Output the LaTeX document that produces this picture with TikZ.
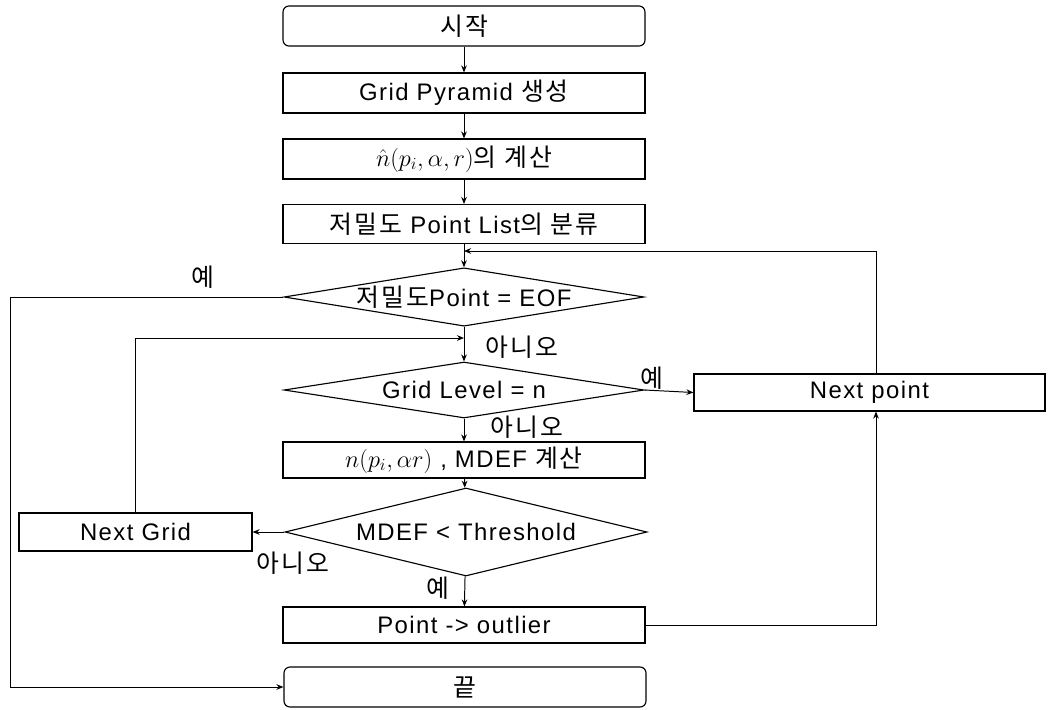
\documentclass[tikz,border=0pt]{standalone}
\usepackage{fontspec}
\setmainfont[LetterSpace=6]{Liberation Sans}
\newfontfamily\krfont[Scale=1.04, LetterSpace=8]{Noto Sans CJK KR}
\newcommand{\hg}[1]{{\krfont #1}}
\usetikzlibrary{positioning,arrows.meta,shapes.geometric}

\tikzset{
  box/.style={draw, rectangle, line width=0.8pt, inner sep=0pt,
    minimum width=90.5mm, minimum height=10mm, font=\fontsize{17}{20}\selectfont},
  term/.style={box, rounded corners=1.5mm},
  dia/.style={draw, diamond, line width=0.8pt, inner sep=0pt, aspect=6,
    minimum width=90mm, minimum height=14.25mm, font=\fontsize{17}{20}\selectfont},
  lab/.style={inner sep=1pt, font=\fontsize{17}{20}\selectfont},
  flow/.style={line width=0.7pt, -{Stealth[length=5pt,width=4pt]}},
}

\begin{document}
\begin{tikzpicture}[x=0.25mm, y=-0.25mm]
\useasboundingbox (0,0) rectangle (1048,709);

%% 본 흐름
\node[term] (start) at (464,26) {\hg{시작}};
\node[box] (pyr) at (464,93) {Grid Pyramid \hg{생성}};
\node[box] (nhat) at (464,159) {$\hat{n}(p_i,\alpha,r)$\hg{의 계산}};
\node[box, minimum height=9.75mm] (lowd) at (464,224) {\hg{저밀도} Point List\hg{의 분류}};
\node[dia] (eof) at (464,297) {\hg{저밀도}Point = EOF};
\node[dia, minimum height=14mm] (lvl) at (464,390) {Grid Level = n};
\node[box, minimum height=9mm] (mdef) at (464,460) {$n(p_i,\alpha r)$ , MDEF \hg{계산}};
\node[dia, aspect=4, minimum width=90.5mm, minimum height=22mm] (thr) at (466,532) {MDEF < Threshold};
\node[box, minimum height=9mm] (outl) at (464,625) {Point -> outlier};
\node[term] (stop) at (465,687) {\hg{끝}};

%% 옆 상자
\node[box, minimum width=58.25mm, minimum height=9.5mm] (ngrid) at (135.5,532) {Next Grid};
\node[box, minimum width=87.75mm, minimum height=9.25mm] (npt) at (869.5,392.5) {Next point};

%% 예 / 아니오
\node[lab] (yes1) at (203,277) {\hg{예}};
\node[lab] (no1) at (522,347) {\hg{아니오}};
\node[lab] (yes2) at (652,378) {\hg{예}};
\node[lab] (no2) at (527,427) {\hg{아니오}};
\node[lab] (no3) at (293,563) {\hg{아니오}};
\node[lab] (yes3) at (438,588) {\hg{예}};

%% 꺾이는 점
\coordinate (lx) at (10,297);
\coordinate (rx) at (876,251);
\coordinate (j1) at (464,251);
\coordinate (j2) at (464,338);

%% 화살표
\draw[flow] (start) -- (pyr);
\draw[flow] (pyr) -- (nhat);
\draw[flow] (nhat) -- (lowd);
\draw[flow] (lowd) -- (eof);
\draw[flow] (eof) -- (lvl);
\draw[flow] (lvl) -- (mdef);
\draw[flow] (mdef) -- (thr);
\draw[flow] (thr) -- (outl);
\draw[flow] (lvl.east) -- (npt.west);
\draw[flow] (thr.west) -- (ngrid.east);

% 되돌림
\draw[flow] (eof.west) -- (lx) |- (stop.west);
\draw[flow] (ngrid.north) |- (j2);
\draw[flow] (outl.east) -| (npt.south -| rx);
\draw[flow] (npt.north -| rx) |- (j1);

\end{tikzpicture}
\end{document}
